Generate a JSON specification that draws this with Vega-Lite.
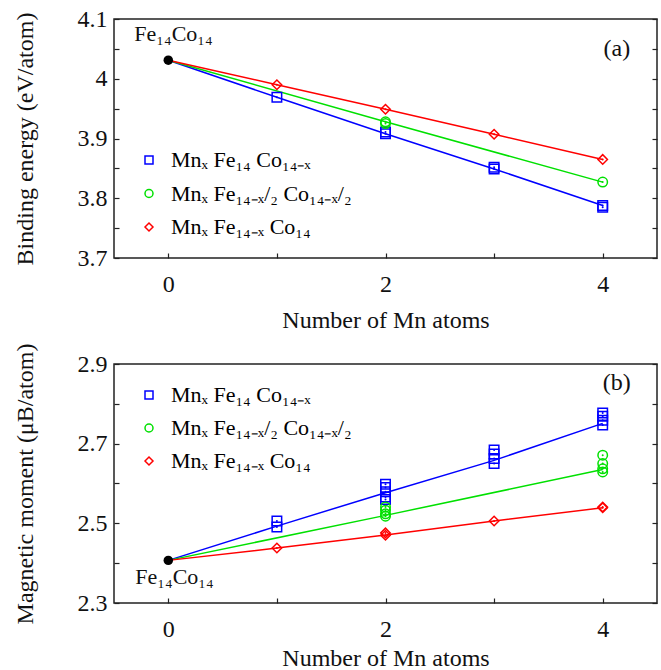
{
  "$schema": "https://vega.github.io/schema/vega-lite/v6.json",
  "padding": {"left": 12, "top": 6, "right": 0, "bottom": 0},
  "config": {
    "font": "Liberation Serif",
    "view": {"stroke": "#222", "strokeWidth": 1.5},
    "style": {"guide-label": {"font": "Liberation Serif"}, "guide-title": {"font": "Liberation Serif"}},
    "axis": {
      "labelFont": "Liberation Serif", "titleFont": "Liberation Serif",
      "labelFontSize": 24, "titleFontSize": 24, "titleFontWeight": "normal",
      "labelColor": "#111", "titleColor": "#111", "tickColor": "#222",
      "tickSize": -5, "tickWidth": 1.2, "domain": false, "grid": false
    },
    "legend": {"labelFont": "Liberation Serif", "padding": 0, "labelLimit": 0}
  },
  "datasets": {
    "energy_lines": [
      {"x": 0, "y": 4.031, "s": "A"}, {"x": 1, "y": 3.969, "s": "A"}, {"x": 2, "y": 3.908, "s": "A"}, {"x": 3, "y": 3.849, "s": "A"}, {"x": 4, "y": 3.788, "s": "A"},
      {"x": 0, "y": 4.031, "s": "B"}, {"x": 2, "y": 3.928, "s": "B"}, {"x": 4, "y": 3.827, "s": "B"},
      {"x": 0, "y": 4.031, "s": "C"}, {"x": 1, "y": 3.990, "s": "C"}, {"x": 2, "y": 3.949, "s": "C"}, {"x": 3, "y": 3.907, "s": "C"}, {"x": 4, "y": 3.865, "s": "C"}
    ],
    "energy_points": [
      {"x": 1, "y": 3.969, "s": "A"}, {"x": 2, "y": 3.908, "s": "A"}, {"x": 2, "y": 3.911, "s": "A"}, {"x": 3, "y": 3.849, "s": "A"}, {"x": 3, "y": 3.852, "s": "A"}, {"x": 4, "y": 3.788, "s": "A"}, {"x": 4, "y": 3.785, "s": "A"},
      {"x": 2, "y": 3.928, "s": "B"}, {"x": 2, "y": 3.925, "s": "B"}, {"x": 4, "y": 3.827, "s": "B"},
      {"x": 1, "y": 3.990, "s": "C"}, {"x": 2, "y": 3.949, "s": "C"}, {"x": 3, "y": 3.907, "s": "C"}, {"x": 4, "y": 3.865, "s": "C"}
    ],
    "energy_base": [{"x": 0, "y": 4.031, "label": "Fe₁₄Co₁₄"}],
    "moment_lines": [
      {"x": 0, "y": 2.407, "s": "A"}, {"x": 1, "y": 2.493, "s": "A"}, {"x": 2, "y": 2.577, "s": "A"}, {"x": 3, "y": 2.658, "s": "A"}, {"x": 4, "y": 2.751, "s": "A"},
      {"x": 0, "y": 2.407, "s": "B"}, {"x": 2, "y": 2.520, "s": "B"}, {"x": 4, "y": 2.635, "s": "B"},
      {"x": 0, "y": 2.407, "s": "C"}, {"x": 1, "y": 2.438, "s": "C"}, {"x": 2, "y": 2.471, "s": "C"}, {"x": 3, "y": 2.506, "s": "C"}, {"x": 4, "y": 2.539, "s": "C"}
    ],
    "moment_points": [
      {"x": 1, "y": 2.506, "s": "A"}, {"x": 1, "y": 2.491, "s": "A"},
      {"x": 2, "y": 2.598, "s": "A"}, {"x": 2, "y": 2.590, "s": "A"}, {"x": 2, "y": 2.579, "s": "A"}, {"x": 2, "y": 2.566, "s": "A"}, {"x": 2, "y": 2.560, "s": "A"},
      {"x": 3, "y": 2.684, "s": "A"}, {"x": 3, "y": 2.674, "s": "A"}, {"x": 3, "y": 2.663, "s": "A"}, {"x": 3, "y": 2.650, "s": "A"},
      {"x": 4, "y": 2.777, "s": "A"}, {"x": 4, "y": 2.769, "s": "A"}, {"x": 4, "y": 2.759, "s": "A"}, {"x": 4, "y": 2.747, "s": "A"},
      {"x": 2, "y": 2.541, "s": "B"}, {"x": 2, "y": 2.533, "s": "B"}, {"x": 2, "y": 2.524, "s": "B"}, {"x": 2, "y": 2.518, "s": "B"},
      {"x": 4, "y": 2.671, "s": "B"}, {"x": 4, "y": 2.650, "s": "B"}, {"x": 4, "y": 2.637, "s": "B"}, {"x": 4, "y": 2.629, "s": "B"},
      {"x": 1, "y": 2.438, "s": "C"}, {"x": 2, "y": 2.476, "s": "C"}, {"x": 2, "y": 2.470, "s": "C"}, {"x": 3, "y": 2.506, "s": "C"}, {"x": 4, "y": 2.539, "s": "C"}, {"x": 4, "y": 2.541, "s": "C"}
    ],
    "moment_base": [{"x": 0, "y": 2.407, "label": "Fe₁₄Co₁₄"}]
  },
  "spacing": 9,
  "resolve": {"scale": {"color": "independent", "shape": "independent", "stroke": "independent", "fill": "independent", "x": "independent", "y": "independent"}},
  "vconcat": [
    {
      "width": 543, "height": 239,
      "resolve": {"axis": {"y": "independent"}},
      "layer": [
        {
          "data": {"name": "energy_lines"},
          "mark": {"type": "line", "strokeWidth": 1.5},
          "encoding": {
            "x": {"field": "x", "type": "quantitative", "scale": {"domain": [-0.5, 4.5], "nice": false, "zero": false},
                  "axis": {"title": "Number of Mn atoms", "values": [0, 1, 2, 3, 4], "labelExpr": "datum.value % 2 == 0 ? format(datum.value, 'd') : ''", "labelPadding": 19, "titlePadding": 12, "labelFont": "Liberation Serif", "titleFont": "Liberation Serif"}},
            "y": {"field": "y", "type": "quantitative", "scale": {"domain": [3.7, 4.1], "nice": false, "zero": false},
                  "axis": {"title": "Binding energy (eV/atom)", "orient": "left", "values": [3.7, 3.75, 3.8, 3.85, 3.9, 3.95, 4.0, 4.05, 4.1], "labelExpr": "abs(datum.value*10 - round(datum.value*10)) < 0.001 ? format(datum.value, '.1~f') : ''", "labelPadding": 12, "titlePadding": 40, "labelFont": "Liberation Serif", "titleFont": "Liberation Serif"}},
            "stroke": {"field": "s", "type": "nominal", "scale": {"range": ["#0000ff", "#00e000", "#ff0000"]}, "legend": null}
          }
        },
        {
          "data": {"name": "energy_points"},
          "mark": {"type": "point", "filled": false, "strokeWidth": 1.5, "size": 90, "opacity": 1},
          "encoding": {
            "x": {"field": "x", "type": "quantitative"},
            "y": {"field": "y", "type": "quantitative", "axis": null},
            "color": {"field": "s", "type": "nominal", "scale": {"domain": ["A", "B", "C"], "range": ["#0000ff", "#00e000", "#ff0000"]},
                      "legend": {"orient": "none", "legendX": 24, "legendY": 130, "title": null, "labelFontSize": 22, "labelFont": "Liberation Serif", "labelLimit": 0, "symbolSize": 64, "symbolStrokeWidth": 1.5, "rowPadding": 11.5, "labelOffset": 11,
                                 "labelExpr": "datum.label == 'A' ? 'Mnₓ Fe₁₄ Co₁₄₋ₓ' : datum.label == 'B' ? 'Mnₓ Fe₁₄₋ₓ/₂ Co₁₄₋ₓ/₂' : 'Mnₓ Fe₁₄₋ₓ Co₁₄'"}},
            "shape": {"field": "s", "type": "nominal", "scale": {"domain": ["A", "B", "C"], "range": ["square", "circle", "diamond"]}}
          }
        },
        {
          "data": {"name": "energy_points"},
          "mark": {"type": "point", "filled": true, "size": 4, "opacity": 1},
          "encoding": {
            "x": {"field": "x", "type": "quantitative"},
            "y": {"field": "y", "type": "quantitative", "axis": null},
            "fill": {"field": "s", "type": "nominal", "scale": {"range": ["#0000ff", "#00e000", "#ff0000"]}, "legend": null}
          }
        },
        {
          "data": {"name": "energy_base"},
          "mark": {"type": "point", "filled": true, "size": 90, "color": "#000", "opacity": 1},
          "encoding": {
            "x": {"field": "x", "type": "quantitative"},
            "y": {"field": "y", "type": "quantitative", "axis": {"orient": "right", "labels": false, "title": null, "values": [3.7, 3.75, 3.8, 3.85, 3.9, 3.95, 4.0, 4.05, 4.1]}}
          }
        },
        {
          "data": {"name": "energy_base"},
          "mark": {"type": "text", "align": "left", "baseline": "alphabetic", "dx": -34, "dy": -19, "fontSize": 22, "color": "#111"},
          "encoding": {
            "x": {"field": "x", "type": "quantitative"},
            "y": {"field": "y", "type": "quantitative", "axis": null},
            "text": {"field": "label"}
          }
        },
        {
          "data": {"values": [{"tag": "(a)"}]},
          "mark": {"type": "text", "align": "center", "baseline": "middle", "fontSize": 24, "color": "#111"},
          "encoding": {
            "x": {"datum": 4.13, "type": "quantitative"},
            "y": {"datum": 4.05, "type": "quantitative", "axis": null},
            "text": {"field": "tag"}
          }
        }
      ]
    },
    {
      "width": 543, "height": 239,
      "resolve": {"axis": {"y": "independent"}},
      "layer": [
        {
          "data": {"name": "moment_lines"},
          "mark": {"type": "line", "strokeWidth": 1.5},
          "encoding": {
            "x": {"field": "x", "type": "quantitative", "scale": {"domain": [-0.5, 4.5], "nice": false, "zero": false},
                  "axis": {"title": "Number of Mn atoms", "values": [0, 1, 2, 3, 4], "labelExpr": "datum.value % 2 == 0 ? format(datum.value, 'd') : ''", "labelPadding": 19, "titlePadding": 5, "labelFont": "Liberation Serif", "titleFont": "Liberation Serif"}},
            "y": {"field": "y", "type": "quantitative", "scale": {"domain": [2.3, 2.9], "nice": false, "zero": false},
                  "axis": {"title": "Magnetic moment (μB/atom)", "orient": "left", "values": [2.3, 2.4, 2.5, 2.6, 2.7, 2.8, 2.9], "labelExpr": "round(datum.value*10) % 2 == 1 ? format(datum.value, '.1f') : ''", "labelPadding": 12, "titlePadding": 40, "labelFont": "Liberation Serif", "titleFont": "Liberation Serif"}},
            "stroke": {"field": "s", "type": "nominal", "scale": {"range": ["#0000ff", "#00e000", "#ff0000"]}, "legend": null}
          }
        },
        {
          "data": {"name": "moment_points"},
          "mark": {"type": "point", "filled": false, "strokeWidth": 1.5, "size": 90, "opacity": 1},
          "encoding": {
            "x": {"field": "x", "type": "quantitative"},
            "y": {"field": "y", "type": "quantitative", "axis": null},
            "color": {"field": "s", "type": "nominal", "scale": {"domain": ["A", "B", "C"], "range": ["#0000ff", "#00e000", "#ff0000"]},
                      "legend": {"orient": "none", "legendX": 24, "legendY": 20, "title": null, "labelFontSize": 22, "labelFont": "Liberation Serif", "labelLimit": 0, "symbolSize": 64, "symbolStrokeWidth": 1.5, "rowPadding": 11, "labelOffset": 11,
                                 "labelExpr": "datum.label == 'A' ? 'Mnₓ Fe₁₄ Co₁₄₋ₓ' : datum.label == 'B' ? 'Mnₓ Fe₁₄₋ₓ/₂ Co₁₄₋ₓ/₂' : 'Mnₓ Fe₁₄₋ₓ Co₁₄'"}},
            "shape": {"field": "s", "type": "nominal", "scale": {"domain": ["A", "B", "C"], "range": ["square", "circle", "diamond"]}}
          }
        },
        {
          "data": {"name": "moment_points"},
          "mark": {"type": "point", "filled": true, "size": 4, "opacity": 1},
          "encoding": {
            "x": {"field": "x", "type": "quantitative"},
            "y": {"field": "y", "type": "quantitative", "axis": null},
            "fill": {"field": "s", "type": "nominal", "scale": {"range": ["#0000ff", "#00e000", "#ff0000"]}, "legend": null}
          }
        },
        {
          "data": {"name": "moment_base"},
          "mark": {"type": "point", "filled": true, "size": 90, "color": "#000", "opacity": 1},
          "encoding": {
            "x": {"field": "x", "type": "quantitative"},
            "y": {"field": "y", "type": "quantitative", "axis": {"orient": "right", "labels": false, "title": null, "values": [2.3, 2.4, 2.5, 2.6, 2.7, 2.8, 2.9]}}
          }
        },
        {
          "data": {"name": "moment_base"},
          "mark": {"type": "text", "align": "left", "baseline": "alphabetic", "dx": -33, "dy": 24, "fontSize": 22, "color": "#111"},
          "encoding": {
            "x": {"field": "x", "type": "quantitative"},
            "y": {"field": "y", "type": "quantitative", "axis": null},
            "text": {"field": "label"}
          }
        },
        {
          "data": {"values": [{"tag": "(b)"}]},
          "mark": {"type": "text", "align": "center", "baseline": "middle", "fontSize": 24, "color": "#111"},
          "encoding": {
            "x": {"datum": 4.13, "type": "quantitative"},
            "y": {"datum": 2.852, "type": "quantitative", "axis": null},
            "text": {"field": "tag"}
          }
        }
      ]
    }
  ]
}
